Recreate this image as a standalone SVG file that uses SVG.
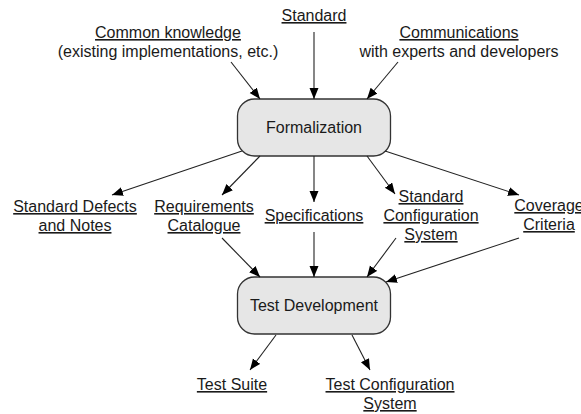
<svg xmlns="http://www.w3.org/2000/svg" width="581" height="414" viewBox="0 0 581 414">
<style>
text{font-family:"Liberation Sans",Arial,sans-serif;font-size:16px;fill:#1a1a1a;text-anchor:middle}
.u{text-decoration:underline}
.box{fill:#e6e6e6;stroke:#333;stroke-width:1.3}
.c line{stroke:#222;stroke-width:1.1;marker-end:url(#ah)}
</style>
<defs>
<marker id="ah" markerUnits="userSpaceOnUse" markerWidth="12" markerHeight="10" refX="11" refY="4.5" orient="auto">
<path d="M0,0 L11,4.5 L0,9 z" fill="#000"/>
</marker>
</defs>
<rect width="581" height="414" fill="#fff"/>
<g id="common"><text x="168" y="38" class="u">Common knowledge</text><text x="168" y="57">(existing implementations, etc.)</text></g>
<g id="standard"><text x="314" y="21" class="u">Standard</text></g>
<g id="communications"><text x="459" y="38" class="u">Communications</text><text x="459" y="57">with experts and developers</text></g>
<g id="formalization"><rect class="box" x="237.5" y="99" width="153" height="57" rx="17"/><text x="314" y="133">Formalization</text></g>
<g id="defects"><text x="75" y="212" class="u">Standard Defects</text><text x="75" y="231" class="u">and Notes</text></g>
<g id="requirements"><text x="204" y="212" class="u">Requirements</text><text x="204" y="231" class="u">Catalogue</text></g>
<g id="specifications"><text x="314" y="221" class="u">Specifications</text></g>
<g id="config"><text x="431" y="202" class="u">Standard</text><text x="431" y="221" class="u">Configuration</text><text x="431" y="240" class="u">System</text></g>
<g id="coverage"><text x="549" y="211" class="u">Coverage</text><text x="549" y="230" class="u">Criteria</text></g>
<g id="testdev"><rect class="box" x="237.5" y="277" width="153" height="57" rx="17"/><text x="314" y="311">Test Development</text></g>
<g id="suite"><text x="232" y="390" class="u">Test Suite</text></g>
<g id="testconfig"><text x="390" y="390" class="u">Test Configuration</text><text x="390" y="409" class="u">System</text></g>
<g id="connectors" class="c">
<line x1="231" y1="62" x2="260" y2="99"/>
<line x1="314" y1="32" x2="314" y2="99"/>
<line x1="398" y1="62" x2="367" y2="99"/>
<line x1="242" y1="151" x2="112" y2="195"/>
<line x1="260" y1="156" x2="222" y2="195"/>
<line x1="314" y1="156" x2="314" y2="202"/>
<line x1="367" y1="156" x2="395" y2="194"/>
<line x1="385" y1="151" x2="519" y2="195"/>
<line x1="222" y1="238" x2="260" y2="277"/>
<line x1="314" y1="232" x2="314" y2="277"/>
<line x1="396" y1="238" x2="367" y2="277"/>
<line x1="519" y1="238" x2="386" y2="282"/>
<line x1="276" y1="335" x2="250" y2="370"/>
<line x1="352" y1="335" x2="370" y2="370"/>
</g>
</svg>
